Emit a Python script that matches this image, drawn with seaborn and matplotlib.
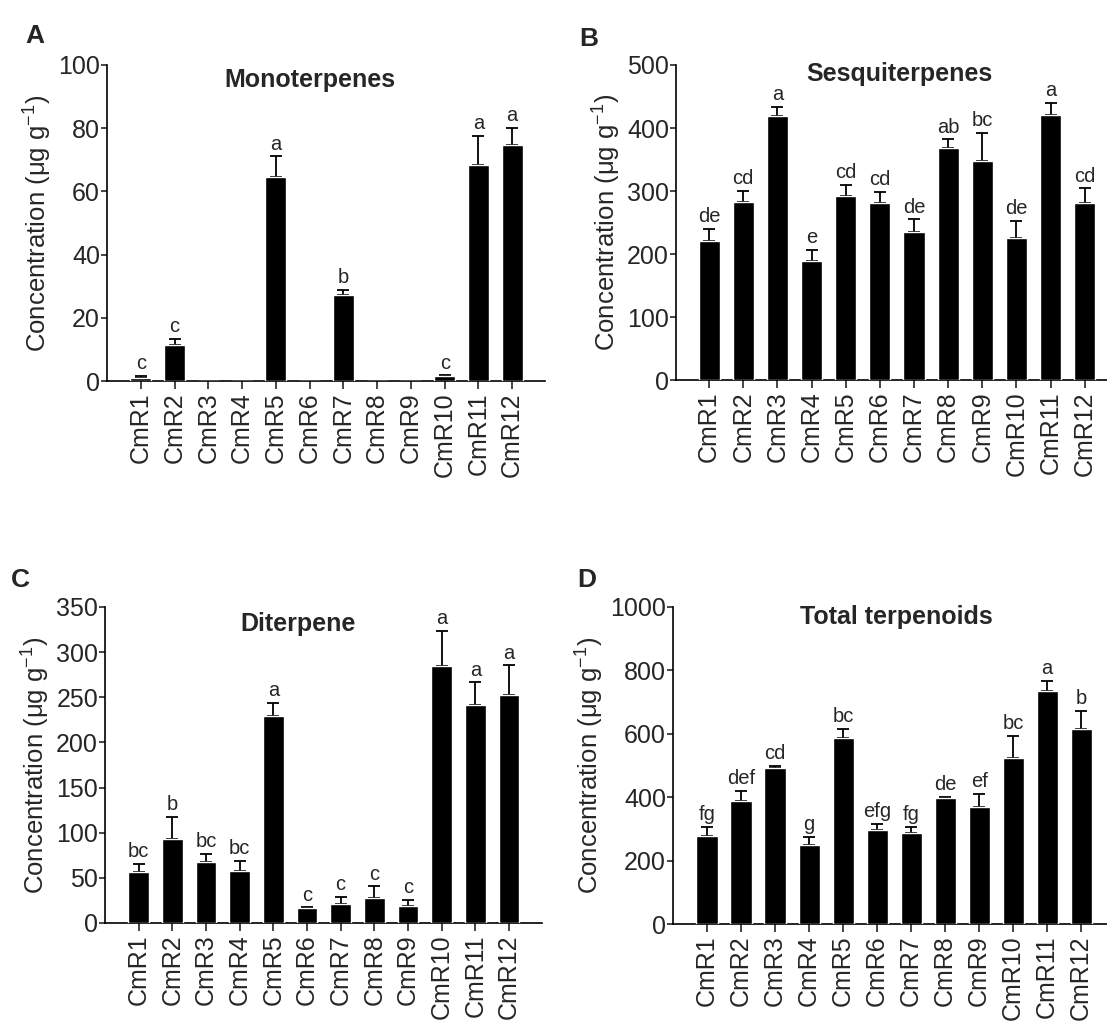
"""
Terpenoid concentrations in CmR lines (4-panel bar chart)
"""
import matplotlib
matplotlib.use('Agg')
import matplotlib.pyplot as plt
import matplotlib.transforms as mtransforms
import seaborn as sns
import numpy as np

sns.set_style('ticks')
plt.rcParams['font.family'] = ['Liberation Sans', 'DejaVu Sans']
plt.rcParams['mathtext.fontset'] = 'custom'
plt.rcParams['mathtext.rm'] = 'Liberation Sans'
plt.rcParams['mathtext.it'] = 'Liberation Sans:italic'
plt.rcParams['mathtext.bf'] = 'Liberation Sans:bold'

lines = ['CmR1', 'CmR2', 'CmR3', 'CmR4', 'CmR5', 'CmR6',
         'CmR7', 'CmR8', 'CmR9', 'CmR10', 'CmR11', 'CmR12']

# 모노테르펜
mono_mean = [1.05, 11.3, 0, 0, 64.6, 0, 27.1, 0, 0, 1.6, 68.3, 74.8]
mono_err = [0.5, 2.0, 0, 0, 6.5, 0, 1.7, 0, 0, 0.2, 9.3, 5.3]
mono_sig = ['c', 'c', '', '', 'a', '', 'b', '', '', 'c', 'a', 'a']

# 세스퀴테르펜
sesq_mean = [220, 282, 419, 189, 291.5, 281, 235, 368, 347, 226, 420, 281]
sesq_err = [20, 18, 14, 18, 18.5, 17, 20, 14, 45, 27, 20, 23]
sesq_sig = ['de', 'cd', 'a', 'e', 'cd', 'cd', 'de', 'ab', 'bc', 'de', 'a', 'cd']

# 디테르펜
dite_mean = [56.6, 93.3, 68.1, 58.1, 228.8, 16.8, 20.7, 27.9, 19.1, 285, 241.4, 252.9]
dite_err = [8.8, 24.1, 8.4, 11.1, 14.9, 0.5, 8.3, 12.7, 6.1, 38.6, 25.2, 32.5]
dite_sig = ['bc', 'b', 'bc', 'bc', 'a', 'c', 'c', 'c', 'c', 'a', 'a', 'a']

# 전체 테르페노이드
total_mean = [278, 389, 492, 250, 585.6, 298, 287, 398, 368, 525, 735, 615.5]
total_err = [28, 32, 7, 24, 30, 17, 19, 3, 42, 69.5, 31, 56.5]
total_sig = ['fg', 'def', 'cd', 'g', 'bc', 'efg', 'fg', 'de', 'ef', 'bc', 'a', 'b']

W, H = 1107, 1021
fig = plt.figure(figsize=(W / 100, H / 100), dpi=100)


def px_axes(left, right, top, bottom):
    return fig.add_axes([left / W, 1 - bottom / H, (right - left) / W, (bottom - top) / H])


def draw_panel(ax, mean, err, sig, title, ymax, step, xlim, title_x, title_y):
    mean = np.array(mean, dtype=float)
    err = np.array(err, dtype=float)
    sns.barplot(x=lines, y=mean, color='black', saturation=1, width=0.62,
                errorbar=None, ax=ax, zorder=3)
    pos = np.arange(len(lines))
    show = mean > 0
    ax.errorbar(pos[show], mean[show], yerr=[np.zeros(show.sum()), err[show]],
                fmt='none', ecolor='black', elinewidth=1.3, capsize=4.5,
                capthick=1.3, zorder=2)
    for i in range(len(lines)):
        if sig[i]:
            ax.annotate(sig[i], (pos[i], mean[i] + err[i]), xytext=(0, 2),
                        textcoords='offset points', ha='center', va='bottom',
                        fontsize=14.5)
    ax.set_ylim(0, ymax)
    ax.set_yticks(np.arange(0, ymax + 1, step))
    ax.set_xlim(*xlim)
    ax.set_ylabel('Concentration (μg g$^{-1}$)', fontsize=18.5, labelpad=3)
    ax.set_xlabel('')
    ax.tick_params(axis='x', labelrotation=90, labelsize=18, length=6,
                   width=1.2, pad=2)
    ax.tick_params(axis='y', labelsize=18, length=4, width=1.2, pad=1)
    for s in ['top', 'right']:
        ax.spines[s].set_visible(False)
    for s in ['left', 'bottom']:
        ax.spines[s].set_linewidth(1.2)
        ax.spines[s].set_color('black')
    trans = mtransforms.blended_transform_factory(ax.transData, ax.transAxes)
    ax.text(title_x, title_y, title, transform=trans, ha='center', va='center',
            fontsize=18, fontweight='bold')


axA = px_axes(107, 545, 65, 381)
draw_panel(axA, mono_mean, mono_err, mono_sig, 'Monoterpenes', 100, 20,
           (-1, 11.97), 5.0, 0.953)
axB = px_axes(676, 1107, 65, 380)
draw_panel(axB, sesq_mean, sesq_err, sesq_sig, 'Sesquiterpenes', 500, 100,
           (-0.97, 11.65), 5.58, 0.97)
axC = px_axes(105, 542, 607, 923)
draw_panel(axC, dite_mean, dite_err, dite_sig, 'Diterpene', 350, 50,
           (-1, 11.98), 4.74, 0.946)
axD = px_axes(673, 1107, 607, 924)
draw_panel(axD, total_mean, total_err, total_sig, 'Total terpenoids', 1000, 200,
           (-1, 11.76), 5.56, 0.968)

# 패널 라벨
for lab, x, y in [('A', 25, 24), ('B', 579, 27), ('C', 11, 568), ('D', 577, 568)]:
    fig.text(x / W, 1 - y / H, lab, fontsize=19, fontweight='bold',
             ha='left', va='top')

fig.savefig('out.png', dpi=100)
